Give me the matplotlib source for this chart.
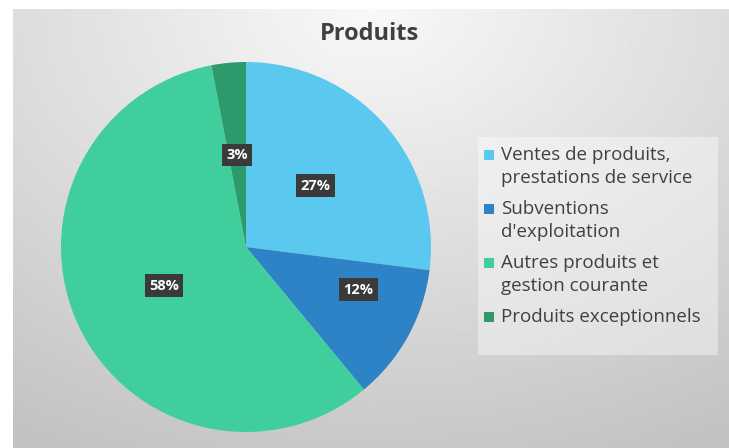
"""Pie chart of 'Produits' shares."""

import numpy as np
import matplotlib.pyplot as plt
from matplotlib.patches import Rectangle

title = 'Produits'
categories = ['Ventes de produits,\nprestations de service',
              "Subventions\nd'exploitation",
              'Autres produits et\ngestion courante',
              'Produits exceptionnels']
shares = [27, 12, 58, 3]
colors = ['#5bc8ef', '#2e82c6', '#40cf9c', '#2e9a6b']
# Excel "best fit" label placement: distance from centre and angle nudge
label_dist = [0.5, 0.65, 0.49, 0.5]
label_turn = [0, 8, 0, 0]

W, H = 729, 448
plt.rcParams['font.family'] = ['Open Sans', 'DejaVu Sans']

fig = plt.figure(figsize=(W / 100, H / 100), dpi=100)

# chart area background: soft radial gradient
bg = fig.add_axes([13 / W, 0, 1 - 13 / W, 1 - 9 / H])
yy, xx = np.mgrid[0:1:300j, 0:1:500j]
d = np.sqrt(((xx - 0.5) * 1.1) ** 2 + (yy * 0.95) ** 2)
grad = 0.975 - 0.2 * np.clip(d, 0, 1.05)
bg.imshow(grad, cmap='gray', vmin=0, vmax=1, aspect='auto',
          extent=[0, 1, 1, 0], interpolation='bilinear')
bg.set_axis_off()

fig.text(369 / W, 1 - 34 / H, title, ha='center', va='center',
         fontsize=17, fontweight='bold', color='#404040')

# pie
r = 185
cx, cy = 246, 247
ax = fig.add_axes([(cx - r) / W, 1 - (cy + r) / H, 2 * r / W, 2 * r / H])
wedges, _ = ax.pie(shares, colors=colors, startangle=90, counterclock=False,
                   radius=1, wedgeprops=dict(linewidth=0))
ax.set_xlim(-1, 1)
ax.set_ylim(-1, 1)
ax.set_aspect('auto')
for w, val, dist, turn in zip(wedges, shares, label_dist, label_turn):
    ang = np.deg2rad((w.theta1 + w.theta2) / 2 + turn)
    ax.text(dist * np.cos(ang), dist * np.sin(ang), '{}%'.format(val),
            ha='center', va='center', fontsize=10.5, fontweight='bold',
            color='white',
            bbox=dict(boxstyle='square,pad=0.3', fc='#3a3a3a', ec='none'))

# legend drawn by hand so the marker sits on the first line
fig.patches.append(Rectangle((478 / W, 1 - 355 / H), 240 / W, 218 / H,
                             transform=fig.transFigure, fc='white',
                             alpha=0.4, ec='none'))
y = 155
for name, col in zip(categories, colors):
    fig.patches.append(Rectangle((484 / W, 1 - (y + 5) / H), 10 / W, 10 / H,
                                 transform=fig.transFigure, fc=col, ec='none'))
    fig.text(501 / W, 1 - (y - 9) / H, name, ha='left', va='top',
             fontsize=13.5, color='#404040', linespacing=1.38)
    y += 24 * (name.count('\n') + 1) + 6

fig.savefig('out.png', dpi=100)
